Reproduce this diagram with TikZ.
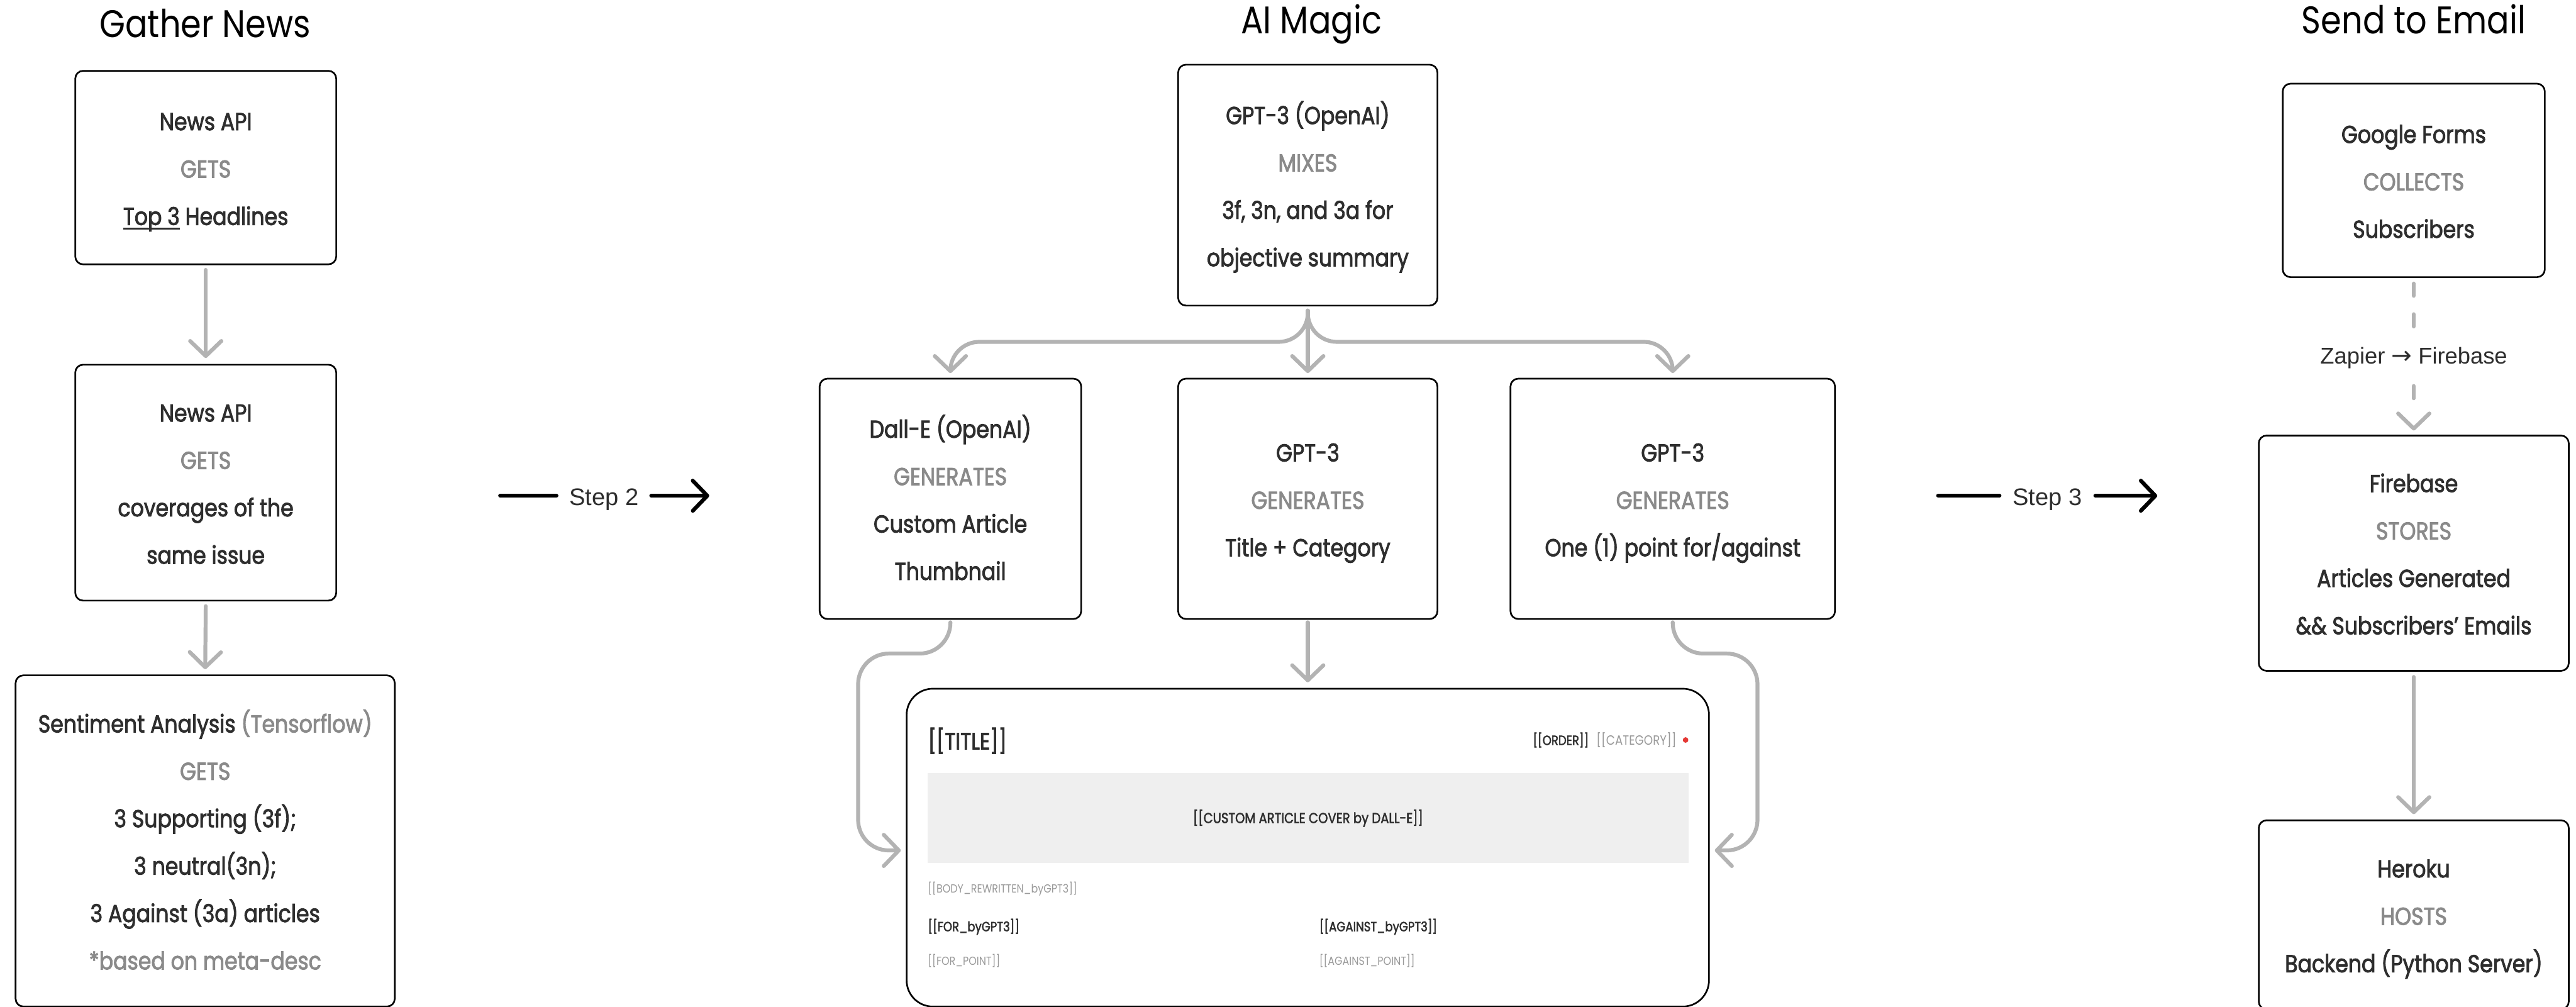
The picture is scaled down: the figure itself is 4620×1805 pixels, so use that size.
\documentclass[tikz,border=0pt]{standalone}
\usepackage{fontspec}
\setmainfont{Poppins}[FakeStretch=0.86]
\newfontfamily\medfont{Poppins}[FakeStretch=0.85, FakeBold=2.2]
\newfontfamily\stepfont{Liberation Sans}
\newfontfamily\arrowfont{DejaVu Sans}
\usetikzlibrary{arrows.meta}
\definecolor{txtc}{HTML}{2E2E2E}
\definecolor{verbc}{HTML}{8A8A8A}
\definecolor{connc}{HTML}{B3B3B3}
\definecolor{coverc}{HTML}{EFEFEF}
\definecolor{dotc}{HTML}{E53935}
\definecolor{phc}{HTML}{9A9A9A}
\newcommand{\Ls}{\rule[-16pt]{0pt}{68pt}}
\newcommand{\vb}[1]{\textcolor{verbc}{#1}}
\newsavebox\ulbox
\newcommand{\myul}[1]{\sbox\ulbox{#1}\rlap{\rule[-8pt]{\wd\ulbox}{3pt}}\usebox\ulbox}
\tikzset{
  box/.style={draw=black, line width=3pt, rounded corners=14pt, inner sep=0pt, outer sep=0pt,
    align=center, text=txtc, font=\medfont\fontsize{44}{85}\selectfont},
  ttl/.style={anchor=base, inner sep=0pt, text=black, font=\fontsize{69}{72}\selectfont},
  conn/.style={draw=connc, line width=7pt, line cap=round, line join=round, rounded corners=52pt},
  gtip/.style={-{Straight Barb[round,length=27pt,width=56pt]}},
  stepline/.style={draw=black, line width=7pt, line cap=round},
  steptip/.style={-{Straight Barb[round,length=26pt,width=54pt]}},
  steptext/.style={anchor=base, inner sep=0pt, text=txtc, font=\stepfont\fontsize{43}{45}\selectfont},
  ph/.style={anchor=base west, inner sep=0pt},
}
\begin{document}
\begin{tikzpicture}[x=1pt,y=-1pt]
\useasboundingbox (0,0) rectangle (4620,1805);
\fill[white] (0,0) rectangle (4620,1805);

% titles
\node[ttl] (t1) at (368,67) {Gather News};
\node[ttl] (t2) at (2352,60) {AI Magic};
\node[ttl] (t3) at (4329,60) {Send to Email};

% column 1
\node[box, minimum width=468pt, minimum height=347pt] (b1) at (369,300.5)
  {\Ls News API\\ \Ls\vb{GETS}\\ \Ls\myul{Top 3} Headlines};
\node[box, minimum width=468pt, minimum height=423pt] (b2) at (369,865.5)
  {\Ls News API\\ \Ls\vb{GETS}\\ \Ls coverages of the\\ \Ls same issue};
\node[box, minimum width=680pt, minimum height=594pt] (b3) at (368,1508)
  {\Ls Sentiment Analysis \vb{(Tensorflow)}\\ \Ls\vb{GETS}\\ \Ls 3 Supporting (3f);\\ \Ls 3 neutral(3n);\\ \Ls 3 Against (3a) articles\\ \Ls\vb{*based on meta-desc}};
\draw[conn, gtip] ([yshift=-10pt]b1.south) -- ([yshift=12pt]b2.north);
\draw[conn, gtip] ([yshift=-10pt]b2.south) -- ([yshift=11pt]b3.north);

% step 2
\node[steptext] (step2) at (1083.5,906) {Step 2};
\coordinate (s2a) at (897,889);
\coordinate (s2b) at (998,889);
\coordinate (s2c) at (1168,889);
\coordinate (s2d) at (1272,889);
\draw[stepline] (s2a) -- (s2b);
\draw[stepline, steptip] (s2c) -- (s2d);

% column 2
\node[box, minimum width=465pt, minimum height=432pt] (gpt) at (2345.5,332)
  {\Ls GPT-3 (OpenAI)\\ \Ls\vb{MIXES}\\ \Ls 3f, 3n, and 3a for\\ \Ls objective summary};
\node[box, minimum width=469pt, minimum height=431pt] (dalle) at (1704.5,894.5)
  {\Ls Dall-E (OpenAI)\\ \Ls\vb{GENERATES}\\ \Ls Custom Article\\ \Ls Thumbnail};
\node[box, minimum width=465pt, minimum height=431pt] (gptc) at (2345.5,894.5)
  {\Ls GPT-3\\ \Ls\vb{GENERATES}\\ \Ls Title + Category};
\node[box, minimum width=582pt, minimum height=431pt] (gptr) at (3000,894.5)
  {\Ls GPT-3\\ \Ls\vb{GENERATES}\\ \Ls One (1) point for/against};

\coordinate (br) at (2345.5,613);
\draw[conn, gtip] ([yshift=-9pt]gpt.south) -- ([yshift=10pt]gptc.north);
\draw[conn, gtip] ([yshift=-9pt]gpt.south) -- (br) -- (br -| dalle.north) -- ([yshift=10pt]dalle.north);
\draw[conn, gtip] ([yshift=-9pt]gpt.south) -- (br) -- (br -| gptr.north) -- ([yshift=10pt]gptr.north);

% article template
\node[draw=black, line width=3pt, rounded corners=47pt, inner sep=0pt,
  minimum width=1439pt, minimum height=570pt] (tmpl) at (2345.5,1520) {};
\node[ph, text=txtc, font=\medfont\fontsize{42}{42}\selectfont] (ttitle) at (1664,1344) {[[TITLE]]};
\node[ph, text=txtc, font=\medfont\fontsize{24}{24}\selectfont] (torder) at (2749,1336) {[[ORDER]]};
\node[ph, text=phc, font=\fontsize{24}{24}\selectfont] (tcat) at (2863,1336) {[[CATEGORY]]};
\node[circle, fill=dotc, minimum size=10pt, inner sep=0pt] (tdot) at (3023,1327) {};
\node[fill=coverc, minimum width=1364pt, minimum height=161pt, inner sep=0pt] (cover) at (2346,1466.5) {};
\node[anchor=base, inner sep=0pt, text=txtc, font=\medfont\fontsize{26}{26}\selectfont] (covertxt) at (2346,1476) {[[CUSTOM ARTICLE COVER by DALL-E]]};
\node[ph, text=phc, font=\fontsize{21}{21}\selectfont] (tbody) at (1664,1601) {[[BODY\_REWRITTEN\_byGPT3]]};
\node[ph, text=txtc, font=\medfont\fontsize{24}{24}\selectfont] (tfor) at (1664,1670) {[[FOR\_byGPT3]]};
\node[ph, text=txtc, font=\medfont\fontsize{24}{24}\selectfont] (tagainst) at (2366,1670) {[[AGAINST\_byGPT3]]};
\node[ph, text=phc, font=\fontsize{21}{21}\selectfont] (tforp) at (1664,1731) {[[FOR\_POINT]]};
\node[ph, text=phc, font=\fontsize{21}{21}\selectfont] (tagainstp) at (2366,1731) {[[AGAINST\_POINT]]};

\coordinate (lk) at (1539,1172);
\coordinate (rk) at (3152,1172);
\coordinate (ly) at (0,1525);
\draw[conn, rounded corners=55pt, gtip] ([yshift=-6pt]dalle.south) -- (dalle.south |- lk) -- (lk) -- (lk |- ly) -- ([xshift=-9pt]tmpl.west |- ly);
\draw[conn, rounded corners=55pt, gtip] ([yshift=-6pt]gptr.south) -- (gptr.south |- rk) -- (rk) -- (rk |- ly) -- ([xshift=9pt]tmpl.east |- ly);
\draw[conn, gtip] ([yshift=-6pt]gptc.south) -- ([yshift=10pt]tmpl.north);

% step 3
\node[steptext] (step3) at (3672,906) {Step 3};
\coordinate (s3a) at (3476,889);
\coordinate (s3b) at (3586,889);
\coordinate (s3c) at (3758,889);
\coordinate (s3d) at (3869,889);
\draw[stepline] (s3a) -- (s3b);
\draw[stepline, steptip] (s3c) -- (s3d);

% column 3
\node[box, minimum width=470pt, minimum height=347pt] (google) at (4329,323.5)
  {\Ls Google Forms\\ \Ls\vb{COLLECTS}\\ \Ls Subscribers};
\node[box, minimum width=556pt, minimum height=422pt] (firebase) at (4329,992)
  {\Ls Firebase\\ \Ls\vb{STORES}\\ \Ls Articles Generated\\ \Ls \&\& Subscribers’ Emails};
\node[box, minimum width=556pt, minimum height=339pt] (heroku) at (4329,1640.5)
  {\Ls Heroku\\ \Ls\vb{HOSTS}\\ \Ls Backend (Python Server)};

\node[steptext, font=\stepfont\fontsize{41}{43}\selectfont] (zap) at (4329,652) {Zapier {\arrowfont\fontsize{44}{46}\selectfont →} Firebase};
\draw[conn, dash pattern=on 22pt off 33pt] ([yshift=-11.5pt]google.south) -- ([yshift=20pt]zap.north);
\draw[conn, dash pattern=on 22pt off 60pt, gtip, shorten >=9pt] ([yshift=-31.5pt]zap.south) -- (firebase.north);
\draw[conn, gtip] ([yshift=-11pt]firebase.south) -- ([yshift=11pt]heroku.north);
\end{tikzpicture}
\end{document}
